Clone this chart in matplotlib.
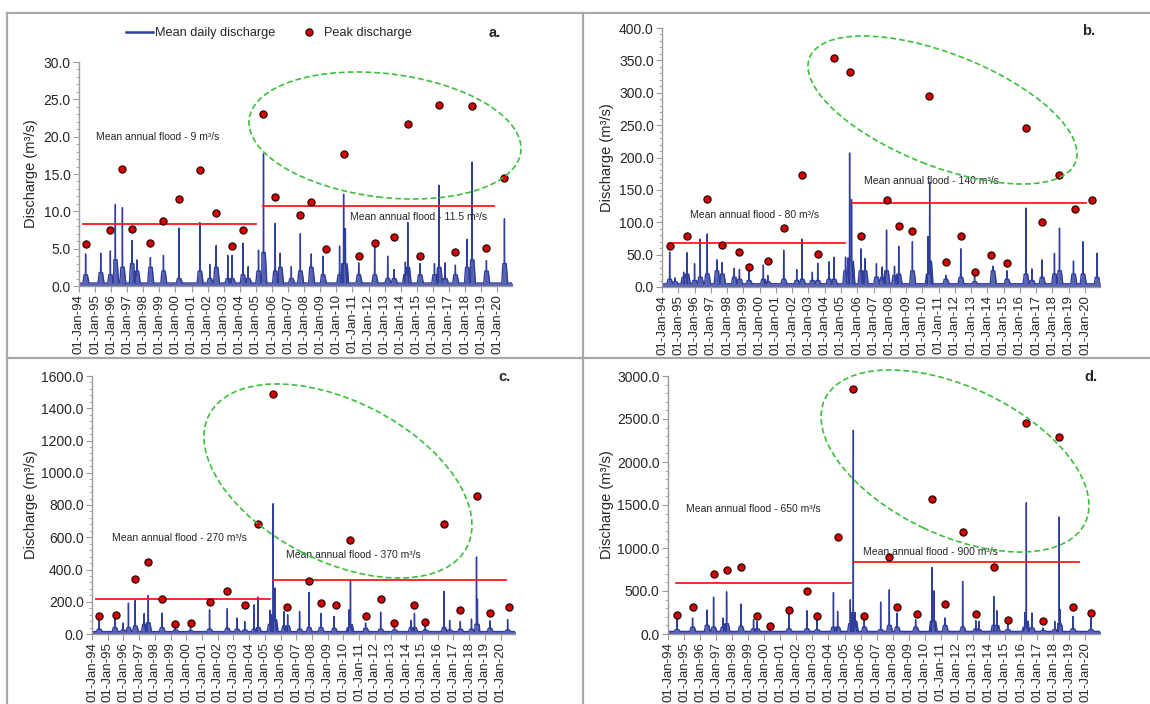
import numpy as np
import pandas as pd
import matplotlib
matplotlib.use('Agg')
import matplotlib.pyplot as plt
import matplotlib.dates as mdates
from matplotlib.ticker import MultipleLocator, AutoMinorLocator, FormatStrFormatter
from matplotlib.patches import Ellipse
from matplotlib.lines import Line2D

plt.rcParams['font.family'] = ['Liberation Sans', 'DejaVu Sans']

# ---------------- data (decimal years) ----------------
# Peak (annual maximum) discharge
a_peak_year = [1994.41, 1995.95, 1996.70, 1997.30, 1998.44, 1999.25, 2000.22, 2001.51, 2002.53, 2003.52,
               2004.19, 2005.47, 2006.20, 2007.76, 2008.44, 2009.37, 2010.45, 2011.39, 2012.38, 2013.59,
               2014.44, 2015.20, 2016.39, 2017.40, 2018.44, 2019.33, 2020.45]
a_peak_val = [5.6, 7.5, 15.7, 7.7, 5.75, 8.65, 11.6, 15.5, 9.8, 5.3, 7.45, 23.0, 11.9, 9.55, 11.3, 5.0,
              17.65, 3.97, 5.8, 6.5, 21.7, 4.05, 24.3, 4.5, 24.1, 5.1, 14.5]

b_peak_year = [1994.47, 1995.53, 1996.76, 1997.70, 1998.76, 1999.34, 2000.50, 2001.48, 2002.61, 2003.57,
               2004.57, 2005.53, 2006.24, 2007.80, 2008.55, 2009.39, 2010.43, 2011.44, 2012.36, 2013.21,
               2014.24, 2015.20, 2016.36, 2017.35, 2018.43, 2019.39, 2020.45]
b_peak_val = [63, 79.5, 135.7, 64.5, 54.7, 31, 40.3, 91.4, 173.4, 51.1, 353, 331.4, 78.5, 134.7, 93.9,
              86.2, 295.7, 38.7, 79.5, 23.7, 49.5, 37.2, 245.7, 100.6, 173.4, 120.3, 134.2]

c_peak_year = [1994.45, 1995.51, 1996.75, 1997.58, 1998.45, 1999.31, 2000.27, 2001.48, 2002.61, 2003.72,
               2004.57, 2005.53, 2006.43, 2007.81, 2008.56, 2009.52, 2010.45, 2011.41, 2012.37, 2013.25,
               2014.52, 2015.21, 2016.40, 2017.44, 2018.47, 2019.32, 2020.51]
c_peak_val = [113, 120, 338, 445, 214, 62, 66, 198, 264, 181, 682, 1491, 169, 328, 194, 177, 586, 109,
              216, 66, 177, 74, 685, 151, 854, 130, 167]

d_peak_year = [1994.56, 1995.53, 1996.84, 1997.65, 1998.54, 1999.56, 2000.34, 2001.53, 2002.65, 2003.29,
               2004.57, 2005.55, 2006.23, 2007.79, 2008.27, 2009.51, 2010.45, 2011.26, 2012.36, 2013.18,
               2014.30, 2015.17, 2016.33, 2017.37, 2018.38, 2019.23, 2020.35]
d_peak_val = [216, 313, 700, 746, 777, 209, 97, 278, 502, 205, 1133, 2845, 213, 897, 317, 232, 1569, 344,
              1183, 236, 781, 166, 2455, 155, 2296, 313, 247]

a_evt_year = [1994.41, 1995.35, 1995.95, 1996.26, 1996.70, 1997.30, 1997.60, 1998.44, 1999.25, 2000.22,
              2001.51, 2002.13, 2002.53, 2003.25, 2003.52, 2004.19, 2004.52, 2005.16, 2005.47, 2006.20,
              2006.51, 2007.20, 2007.76, 2008.44, 2009.17, 2010.20, 2010.45, 2010.56, 2011.39, 2012.38,
              2013.19, 2013.59, 2014.29, 2014.44, 2015.20, 2016.10, 2016.39, 2016.76, 2017.40, 2018.13,
              2018.44, 2019.33, 2020.45]
a_evt_peak = [4.3, 4.4, 4.7, 10.9, 10.5, 6.1, 3.5, 3.8, 4.1, 7.75, 8.5, 2.9, 5.4, 4.1, 4.1, 5.75, 2.6,
              4.8, 17.7, 8.4, 4.4, 2.6, 7.0, 4.3, 4.0, 5.35, 12.3, 7.7, 3.1, 5.3, 4.0, 2.2, 3.2, 8.5, 3.0,
              3.0, 13.5, 3.1, 2.8, 6.25, 16.6, 3.4, 9.0]
a_evt_level = [1.5, 1.8, 1.5, 3.5, 2.5, 3.0, 2.0, 2.5, 2.0, 1.0, 2.0, 1.0, 2.5, 1.0, 1.0, 1.5, 1.0, 2.0,
               4.5, 2.0, 2.5, 1.0, 2.0, 2.5, 1.5, 1.5, 3.0, 3.0, 1.5, 1.5, 1.0, 1.0, 1.5, 2.5, 1.5, 1.5,
               2.5, 1.0, 1.5, 2.5, 3.5, 2.0, 3.0]
a_low = 0.4

b_evt_year = [1994.47, 1994.80, 1995.33, 1995.53, 1996.00, 1996.35, 1996.78, 1997.37, 1997.70, 1998.44,
              1998.76, 1999.34, 2000.23, 2000.50, 2001.48, 2002.28, 2002.61, 2003.24, 2003.57, 2004.26,
              2004.57, 2005.28, 2005.53, 2005.65, 2006.22, 2006.47, 2007.18, 2007.53, 2007.80, 2008.29,
              2008.55, 2009.39, 2010.35, 2010.45, 2011.44, 2012.36, 2013.21, 2014.34, 2015.20, 2016.36,
              2016.73, 2017.35, 2018.12, 2018.43, 2019.29, 2019.87, 2020.73]
b_evt_peak = [54, 14, 23, 53, 36, 74, 82, 42, 38, 29, 27, 26, 34, 18, 57, 27, 74, 23, 37, 39, 46, 46,
              207, 135, 59, 44, 36, 31, 88, 32, 63, 70, 78, 162, 18, 59, 18, 32, 25, 122, 28, 42, 52, 91,
              40, 70, 52]
b_evt_level = [12, 8, 15, 20, 10, 15, 20, 25, 20, 15, 12, 10, 12, 8, 12, 10, 12, 10, 10, 12, 12, 25, 45,
               40, 25, 25, 15, 15, 25, 18, 20, 25, 20, 40, 12, 15, 8, 25, 12, 20, 10, 15, 20, 25, 20, 20,
               15]
b_low = 5

c_evt_year = [1994.45, 1995.45, 1995.98, 1996.32, 1996.75, 1997.32, 1997.58, 1998.45, 1999.31, 2000.27,
              2001.48, 2002.61, 2003.23, 2003.72, 2004.32, 2004.57, 2005.32, 2005.53, 2005.64, 2006.23,
              2006.45, 2007.21, 2007.81, 2008.56, 2009.41, 2010.35, 2010.45, 2011.41, 2012.37, 2013.25,
              2014.31, 2014.52, 2015.21, 2016.40, 2016.76, 2017.44, 2018.15, 2018.47, 2018.53, 2019.32,
              2020.45]
c_evt_peak = [109, 113, 68, 192, 208, 126, 239, 130, 47, 47, 150, 157, 99, 78, 181, 229, 148, 808, 285,
              140, 120, 140, 258, 128, 109, 150, 336, 68, 136, 62, 85, 128, 58, 264, 85, 78, 93, 478, 216,
              82, 89]
c_evt_level = [30, 40, 25, 40, 50, 60, 70, 40, 25, 20, 30, 35, 30, 25, 30, 40, 60, 120, 90, 50, 50, 30,
               40, 40, 35, 40, 60, 35, 30, 25, 40, 40, 25, 40, 25, 30, 30, 60, 60, 35, 25]
c_low = 15

d_evt_year = [1994.56, 1995.53, 1996.43, 1996.84, 1997.42, 1997.65, 1998.54, 1999.33, 1999.56, 2000.34,
              2001.53, 2002.65, 2003.29, 2004.31, 2004.57, 2005.36, 2005.55, 2005.65, 2006.23, 2007.25,
              2007.79, 2008.27, 2009.43, 2010.45, 2010.57, 2011.26, 2012.36, 2013.18, 2013.37, 2014.30,
              2014.49, 2015.17, 2016.23, 2016.33, 2016.68, 2017.37, 2018.10, 2018.38, 2018.44, 2019.23,
              2020.35]
d_evt_peak = [216, 186, 278, 429, 186, 491, 348, 166, 147, 62, 255, 271, 166, 483, 263, 398, 2370, 186,
              186, 371, 514, 244, 166, 773, 502, 186, 611, 155, 147, 437, 271, 128, 251, 1527, 244, 70,
              147, 1361, 282, 205, 186]
d_evt_level = [50, 80, 100, 80, 80, 120, 90, 60, 60, 35, 60, 60, 50, 80, 80, 120, 250, 150, 80, 50, 100,
               80, 80, 150, 150, 100, 80, 60, 50, 100, 100, 50, 80, 150, 70, 40, 50, 120, 100, 60, 50]
d_low = 30

# Mean annual flood lines (pre / post 2005)
a_maf_val, a_maf_start, a_maf_end = [8.3, 10.7], [1994.27, 2005.47], [2005.02, 2019.79]
b_maf_val, b_maf_start, b_maf_end = [68.1, 129.5], [1994.41, 2005.65], [2005.24, 2020.06]
c_maf_val, c_maf_start, c_maf_end = [214, 336], [1994.28, 2005.53], [2005.32, 2020.32]
d_maf_val, d_maf_start, d_maf_end = [591, 835], [1994.50, 2005.55], [2005.42, 2019.59]

a_maf_text = ['Mean annual flood - 9 m³/s', 'Mean annual flood - 11.5 m³/s']
b_maf_text = ['Mean annual flood - 80 m³/s', 'Mean annual flood - 140 m³/s']
c_maf_text = ['Mean annual flood - 270 m³/s', 'Mean annual flood - 370 m³/s']
d_maf_text = ['Mean annual flood - 650 m³/s', 'Mean annual flood - 900 m³/s']

panel_labels = ['a.', 'b.', 'c.', 'd.']
y_max = [30, 400, 1600, 3000]
y_step = [5, 50, 200, 500]

# ---------------- styling / layout (pixels of a 1150x704 canvas) ----------------
W, H = 1150, 704
BLUE = '#2f3d9c'
RED = '#ff1a1a'
DOT = '#d40000'
GREEN = '#3cbf3c'
GRAY = '#9a9a9a'
TXT = '#262626'

fig = plt.figure(figsize=(W / 100, H / 100), dpi=100)


def px(x, y):
    return x / W, 1 - y / H


def yr2num(y):
    base = mdates.date2num(pd.Timestamp('1994-01-01'))
    return base + (np.asarray(y, float) - 1994.0) * 365.25


# offsets (days) of the hydrograph vertices around each event: low, level, level, peak, level, level, low
RISE_FALL = [-60, -35, -4, 0, 4, 40, 75]


def hydrograph(years, peaks, levels, low):
    t, v = [], []
    for y, p, s in zip(years, peaks, levels):
        c = float(yr2num(y))
        t += [c + d for d in RISE_FALL]
        v += [low, s, s, p, s, s, low]
    t += [float(yr2num(1994.0)), float(yr2num(2020.95))]
    v += [low, low]
    order = np.argsort(t)
    return np.array(t)[order], np.array(v)[order]


# axes boxes: left, right, top, bottom (px)
boxes = [(79, 512, 62, 286), (662, 1100, 28, 287), (92, 515, 376, 634), (668, 1100, 376, 634)]
ylabel_right = [38, 614, 38, 614]
label_pos = [(489, 33), (1082, 31), (498, 377), (1084, 377)]
maf_text_pos = [[(96, 137), (350, 217)], [(690, 215), (864, 181)],
                [(112, 538), (286, 555)], [(686, 509), (863, 552)]]
# ellipses: centre (px), full width, height (px), angle (deg)
ellipses = [((385, 135.5), 273.6, 123.6, -6.9), ((942.5, 110), 285.8, 112.4, -21.5),
            ((338, 481), 289.8, 159.8, -27.1), ((955, 461), 288.2, 148.0, -25.4)]

events = [(a_evt_year, a_evt_peak, a_evt_level, a_low), (b_evt_year, b_evt_peak, b_evt_level, b_low),
          (c_evt_year, c_evt_peak, c_evt_level, c_low), (d_evt_year, d_evt_peak, d_evt_level, d_low)]
peaks = [(a_peak_year, a_peak_val), (b_peak_year, b_peak_val), (c_peak_year, c_peak_val),
         (d_peak_year, d_peak_val)]
mafs = [(a_maf_val, a_maf_start, a_maf_end, a_maf_text), (b_maf_val, b_maf_start, b_maf_end, b_maf_text),
        (c_maf_val, c_maf_start, c_maf_end, c_maf_text), (d_maf_val, d_maf_start, d_maf_end, d_maf_text)]

for i in range(4):
    l, r, t, b = boxes[i]
    ax = fig.add_axes([l / W, 1 - b / H, (r - l) / W, (b - t) / H])
    tt, vv = hydrograph(*events[i])
    ax.plot(tt, vv, color=BLUE, lw=1.0, zorder=2)
    ax.fill_between(tt, 0, vv, color=BLUE, alpha=0.8, lw=0, zorder=1)
    py, pv = peaks[i]
    ax.plot(yr2num(py), pv, 'o', ls='none', mfc=DOT, mec='#1a0000', mew=0.8, ms=5.2, zorder=5)
    vals, st, en, txts = mafs[i]
    for k in range(2):
        ax.plot([yr2num(st[k]), yr2num(en[k])], [vals[k], vals[k]], color=RED, lw=1.3, zorder=4)
        x0, y0 = maf_text_pos[i][k]
        fig.text(*px(x0, y0), txts[k], fontsize=7.5, color=TXT, ha='left', va='center', zorder=6)

    ax.set_xlim(yr2num(1994.0), yr2num(2020.92))
    ax.set_ylim(0, y_max[i])
    ax.yaxis.set_major_locator(MultipleLocator(y_step[i]))
    ax.yaxis.set_minor_locator(AutoMinorLocator(5))
    ax.yaxis.set_major_formatter(FormatStrFormatter('%.1f'))
    ax.xaxis.set_major_locator(mdates.YearLocator(1, month=1, day=1))
    ax.xaxis.set_major_formatter(mdates.DateFormatter('%d-%b-%y'))
    for s in ['top', 'right']:
        ax.spines[s].set_visible(False)
    for s in ['left', 'bottom']:
        ax.spines[s].set_color(GRAY)
        ax.spines[s].set_linewidth(1.0)
    ax.tick_params(axis='both', which='both', color=GRAY, direction='out', labelcolor=TXT)
    ax.tick_params(axis='y', which='major', length=4, labelsize=10, pad=2)
    ax.tick_params(axis='y', which='minor', length=2.5)
    ax.tick_params(axis='x', which='major', length=4, labelsize=9.5, labelrotation=90, pad=2)
    ax.set_ylabel('Discharge (m³/s)', fontsize=10.5, color=TXT)
    ax.yaxis.set_label_coords((ylabel_right[i] - l) / (r - l), 0.5)
    ax.patch.set_alpha(0)

    (cx, cy), ew, eh, ang = ellipses[i]
    el = Ellipse((cx / 100, (H - cy) / 100), ew / 100, eh / 100, angle=ang,
                 transform=fig.dpi_scale_trans, fill=False, ec=GREEN, lw=1.2,
                 ls=(0, (3.5, 1.8)), zorder=7)
    fig.add_artist(el)

    lx, ly = label_pos[i]
    fig.text(*px(lx, ly), panel_labels[i], fontsize=10.5, fontweight='bold', color=TXT,
             ha='left', va='center')

    if i == 0:
        h1 = Line2D([], [], color=BLUE, lw=1.8)
        h2 = Line2D([], [], marker='o', ls='none', mfc=DOT, mec='#1a0000', mew=0.8, ms=5.2)
        fig.legend([h1, h2], ['Mean daily discharge', 'Peak discharge'], loc='center left',
                   bbox_to_anchor=px(126, 33), bbox_transform=fig.transFigure, ncol=2,
                   frameon=False, fontsize=9.2, handlelength=2.1, handletextpad=0.15,
                   columnspacing=1.6, borderpad=0, borderaxespad=0, labelcolor=TXT)

# panel frame lines
for (x0, y0, x1, y1) in [(7, 13, W, 13), (7, 13, 7, H), (7, 358, W, 358), (583, 13, 583, H)]:
    fig.add_artist(Line2D([x0 / W, x1 / W], [1 - y0 / H, 1 - y1 / H], color='#a8a8a8', lw=1.6,
                          transform=fig.transFigure))

fig.savefig('out.png', dpi=100)
